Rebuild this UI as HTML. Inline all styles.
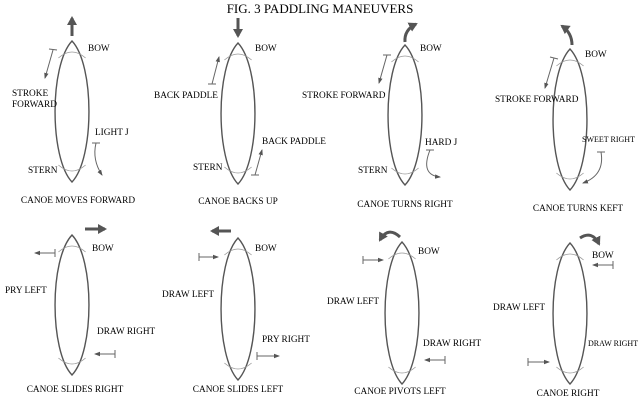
<!DOCTYPE html>
<html><head><meta charset="utf-8"><style>
body{margin:0;background:#fff}
svg{display:block}
text{font-family:"Liberation Serif",serif;fill:#000;font-size:9.3px}
</style></head><body>
<svg id="fig" width="640" height="400" viewBox="0 0 640 400">
<defs>
<marker id="ah" markerWidth="6" markerHeight="6" refX="5" refY="3" orient="auto" markerUnits="userSpaceOnUse"><path d="M0,0.8 L6,3 L0,5.2z" fill="#555"/></marker>
<marker id="bh" markerWidth="10" markerHeight="10" refX="7" refY="5" orient="auto" markerUnits="userSpaceOnUse"><path d="M0,0 L9,5 L0,10z" fill="#555"/></marker>
</defs>
<text x="320" y="13" text-anchor="middle" style="font-size:13px">FIG. 3 PADDLING MANEUVERS</text>
<g id="canoes"></g>
<g id="labels"></g>
<g id="arrows" fill="none" stroke="#666" stroke-width="1"></g>
</svg>
<script>
const canoeNames=['moves-forward','backs-up','turns-right','turns-left','slides-right','slides-left','pivots-left','canoe-right'];
const canoeCx=[72,238,405,570,72,238,402,570];
const canoeTop=[41,43,45,49,235,238,242,243];
const canoeBot=[182,184,185,190,375,380,384,384];
const canoeHalfW=[17,17,17,17,17,17,17,17];
const labelText=['BOW','STROKE','FORWARD','LIGHT J','STERN','CANOE MOVES FORWARD',
'BOW','BACK PADDLE','BACK PADDLE','STERN','CANOE BACKS UP',
'BOW','STROKE FORWARD','HARD J','STERN','CANOE TURNS RIGHT',
'BOW','STROKE FORWARD','SWEET RIGHT','CANOE TURNS KEFT',
'BOW','PRY LEFT','DRAW RIGHT','CANOE SLIDES RIGHT',
'BOW','DRAW LEFT','PRY RIGHT','CANOE SLIDES LEFT',
'BOW','DRAW LEFT','DRAW RIGHT','CANOE PIVOTS LEFT',
'BOW','DRAW LEFT','DRAW RIGHT','CANOE RIGHT'];
const labelX=[88,12,12,95,28,78, 255,154,262,193,238, 420,302,425,358,405, 585,495,582,578, 92,5,97,75, 255,162,262,238, 418,327,423,400, 592,493,588,568];
const labelY=[51,96,107,135,173,203, 51,98,144,170,204, 51,98,145,173,207, 57,102,142,211, 251,293,334,392, 251,297,342,392, 254,304,346,394, 258,310,346,396];
const labelAnchor=['s','s','s','s','s','m','s','s','s','s','m','s','s','s','s','m','s','s','s','m','s','s','s','m','s','s','s','m','s','s','s','m','s','s','s','m'];
const NS='http://www.w3.org/2000/svg';
const gc=document.getElementById('canoes');
canoeCx.forEach((cx,i)=>{
  const t=canoeTop[i],b=canoeBot[i],w=canoeHalfW[i],h=(b-t);
  const p=document.createElementNS(NS,'path');
  p.setAttribute('d',`M${cx},${t} C${cx+w*1.33},${t+h*0.17} ${cx+w*1.33},${b-h*0.17} ${cx},${b} C${cx-w*1.33},${b-h*0.17} ${cx-w*1.33},${t+h*0.17} ${cx},${t}Z`);
  p.setAttribute('fill','none');p.setAttribute('stroke','#555');p.setAttribute('stroke-width','1.4');
  
  
  gc.appendChild(p);
  [[t+17,1],[b-17,-1]].forEach(([y,d])=>{
    const a=document.createElementNS(NS,'path');
    a.setAttribute('d',`M${cx-w*0.8},${y} Q${cx},${y-d*12} ${cx+w*0.8},${y}`);
    a.setAttribute('fill','none');a.setAttribute('stroke','#999');a.setAttribute('stroke-width','0.8');
    
    
    gc.appendChild(a);
  });
});
const gl=document.getElementById('labels');
labelText.forEach((s,i)=>{
  const e=document.createElementNS(NS,'text');
  e.setAttribute('x',labelX[i]);e.setAttribute('y',labelY[i]);
  if(labelAnchor[i]==='m')e.setAttribute('text-anchor','middle');
  if(s==='SWEET RIGHT'||(s==='DRAW RIGHT'&&i>30))e.style.fontSize='8px';
  e.textContent=s;
  
  
  gl.appendChild(e);
});
const ga=document.getElementById('arrows');
function ar(d,big,tbar,name){
  const p=document.createElementNS(NS,'path');
  p.setAttribute('d',d);
  p.setAttribute('marker-end',big?'url(#bh)':'url(#ah)');
  if(big){p.setAttribute('stroke-width','3');p.setAttribute('stroke','#555');}
  
  
  ga.appendChild(p);
  if(tbar){const t=document.createElementNS(NS,'path');t.setAttribute('d',tbar);
    
    
    ga.appendChild(t);}
}
ar('M72,36 L72,18',1,null,'move-arrow-forward');
ar('M53,50 L45,78',0,'M49,49 L57,50','stroke-forward-arrow');
ar('M96,143 Q92,160 102,175',0,'M92,143 L100,143','light-j-arrow');
ar('M238,18 L238,36',1,null,'move-arrow-back');
ar('M212,84 L219,57',0,'M208,84 L216,84','back-paddle-left-arrow');
ar('M255,175 L262,150',0,'M251,175 L259,175','back-paddle-right-arrow');
ar('M405,42 Q404,30 416,24',1,null,'turn-right-arrow');
ar('M387,55 L379,83',0,'M383,55 L391,55','stroke-forward-arrow-3');
ar('M430,150 Q420,175 440,177',0,'M426,150 L434,150','hard-j-arrow');
ar('M572,45 Q572,33 562,26',1,null,'turn-left-arrow');
ar('M554,58 L545,88',0,'M550,57 L558,59','stroke-forward-arrow-4');
ar('M601,152 Q605,175 583,183',0,'M597,152 L605,152','sweet-right-arrow');
ar('M85,229 L105,229',1,null,'slide-right-arrow');
ar('M55,253 L35,253',0,'M55,249 L55,257','pry-left-arrow');
ar('M115,354 L95,354',0,'M115,350 L115,358','draw-right-arrow');
ar('M231,231 L212,231',1,null,'slide-left-arrow');
ar('M199,257 L218,257',0,'M199,253 L199,261','draw-left-arrow');
ar('M257,356 L279,356',0,'M257,352 L257,360','pry-right-arrow');
ar('M400,237 Q388,226 380,240',1,null,'pivot-left-arrow');
ar('M363,260 L383,260',0,'M363,256 L363,264','draw-left-arrow-7');
ar('M445,360 L425,360',0,'M445,356 L445,364','draw-right-arrow-7');
ar('M580,238 Q592,230 599,244',1,null,'pivot-right-arrow');
ar('M613,265 L593,265',0,'M613,261 L613,269','draw-right-arrow-8');
ar('M528,362 L549,362',0,'M528,358 L528,366','draw-left-arrow-8');
</script>
</body></html>
